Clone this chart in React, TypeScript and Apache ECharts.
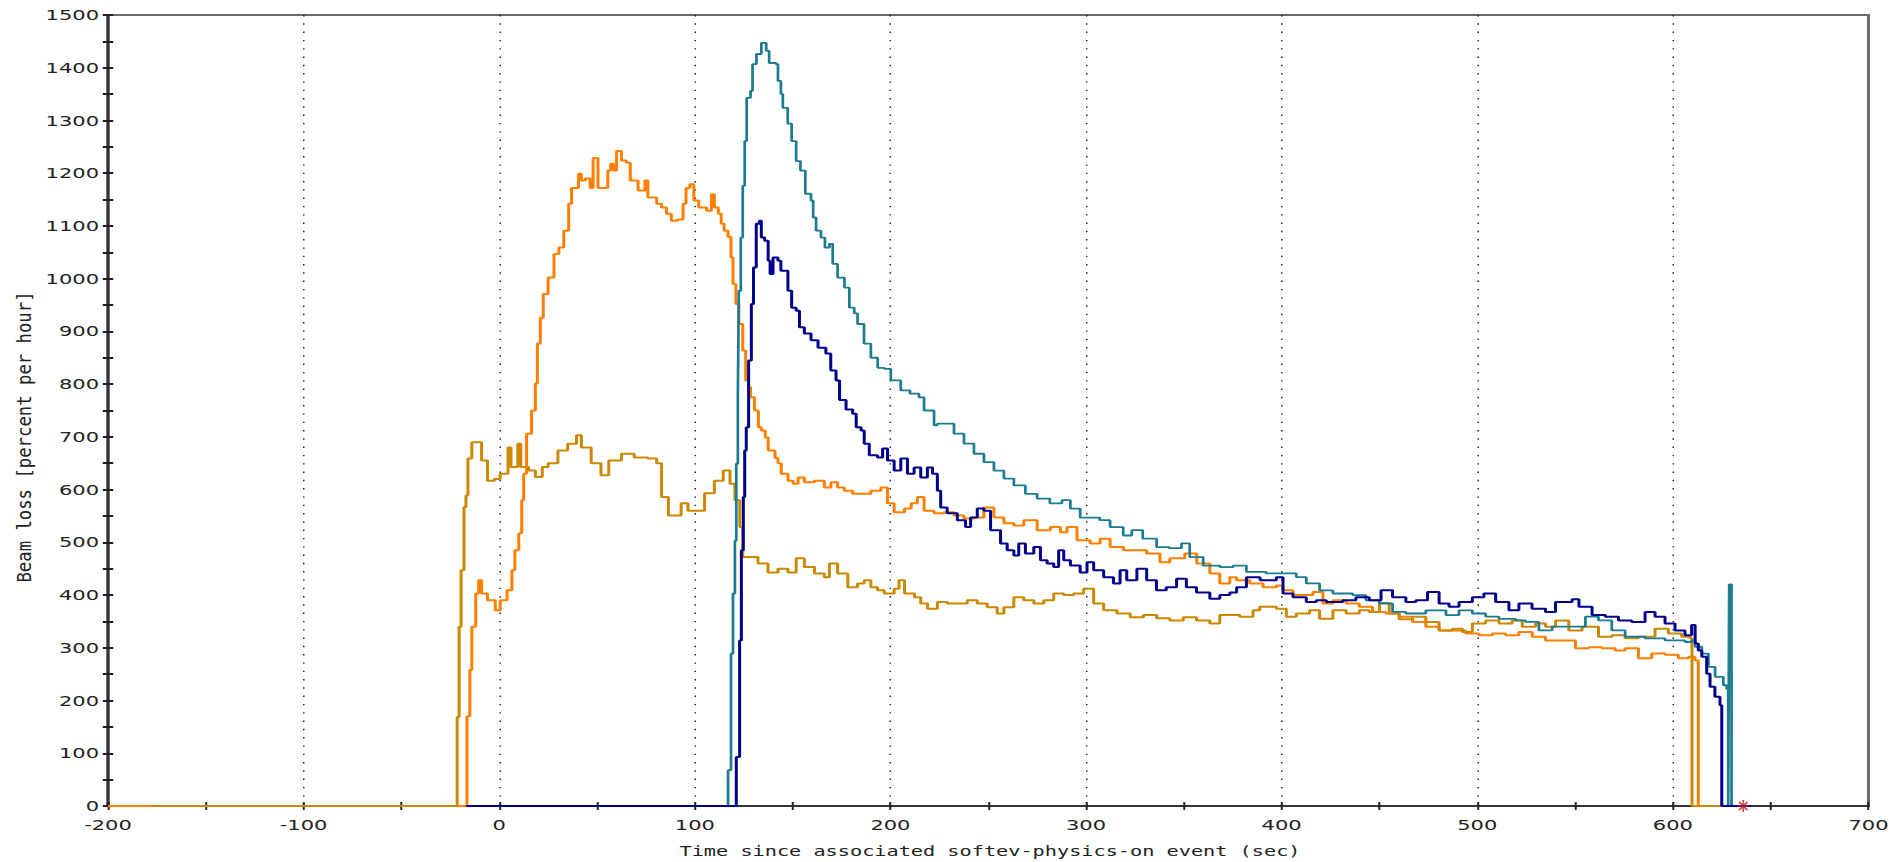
import React, { useEffect, useRef } from "react";
import * as echarts from "echarts";

// ---- data: [time since event (sec), beam loss (percent per hour)] ----
const orangeData: [number, number][] = [
  [-200, 0], [-17.5, 0], [-16.5, 170], [-15, 258], [-14, 340], [-12, 403], [-10.5, 428], [-9, 403],
  [-6, 390], [-2, 371], [0.5, 390], [4, 409], [6.5, 447], [8, 485], [10, 517], [11.5, 580], [12.5, 630],
  [14, 706], [16.5, 750], [18.5, 801], [19.5, 877], [21, 926], [22.5, 971], [25, 1002], [28, 1047],
  [30.5, 1059], [33, 1091], [35.5, 1142], [37, 1172], [40.5, 1199], [42, 1186], [44, 1190], [46.5, 1172],
  [48, 1229], [50.5, 1172], [53, 1172], [55.5, 1205], [57, 1218], [58.5, 1205], [60, 1242], [62.5, 1224],
  [65, 1220], [67, 1186], [71, 1167], [74.5, 1186], [76, 1154], [78, 1154], [80.5, 1142], [83, 1135],
  [85.5, 1123], [88, 1110], [91, 1112], [94, 1142], [95.5, 1172], [97.5, 1179], [99.5, 1148], [102, 1135],
  [106, 1129], [108.5, 1160], [110, 1135], [112, 1123], [113.5, 1104], [115, 1091], [117, 1079],
  [118.5, 1040], [119.5, 990], [121, 952], [122.5, 914], [124.5, 864], [126, 807], [127.5, 794],
  [128.5, 775], [130.5, 750], [132.5, 718], [134, 712], [136, 699], [137.5, 674], [141, 660], [142.5, 650],
  [144.2, 630], [147.6, 617], [150.3, 611], [152.8, 623], [156, 614], [161.2, 617], [166.2, 604],
  [169.6, 614], [173, 604], [176.4, 598], [180.7, 592], [184.9, 592], [190, 598], [195.1, 604], [198.5, 574],
  [201.9, 557], [207.2, 564], [210.6, 574], [213.8, 586], [217.2, 560], [222.3, 555], [227.4, 557],
  [232.5, 551], [237.6, 545], [242.7, 547], [247.8, 566], [252.9, 547], [258, 536], [263.1, 532],
  [268.2, 542], [275, 523], [281.8, 529], [286.9, 519], [290.3, 529], [295.4, 504], [302.1, 498],
  [307.2, 507], [312.3, 491], [319.1, 485], [324.2, 485], [331, 479], [337.8, 462], [342.9, 470],
  [350.5, 479], [356.6, 460], [363.3, 441], [368.4, 422], [373.5, 434], [377, 428], [383.7, 422],
  [390.5, 415], [397.3, 418], [400.7, 409], [405.8, 400], [412.6, 400], [416, 406], [421.1, 384],
  [426.2, 390], [433, 384], [439.7, 378], [446.5, 368], [453.3, 365], [460.1, 359], [466.9, 349],
  [473.7, 340], [480.5, 333], [487.3, 333], [494.1, 327], [500.9, 324], [507.7, 327], [514.5, 324],
  [521.3, 330], [528.1, 321], [534.9, 314], [541.7, 314], [550.2, 299], [557, 301], [563.7, 299],
  [570.5, 295], [575.6, 299], [582.4, 280], [589.2, 289], [596, 287], [602.8, 280], [608, 283],
  [611.3, 276], [613, 0], [640, 0],
];

const goldData: [number, number][] = [
  [-177, 0], [-22.5, 0], [-21.5, 169], [-20.5, 340], [-19.5, 447], [-18, 567], [-17, 589], [-16, 659],
  [-14, 690], [-10.5, 690], [-9, 655], [-6, 617], [-2.5, 620], [0.5, 630], [4.5, 680], [6, 643],
  [9.5, 687], [11, 643], [15, 636], [18.5, 624], [22, 643], [25, 650], [30, 674], [35, 687], [39.5, 703],
  [42, 680], [47, 650], [52, 627], [56, 655], [62.5, 668], [69, 661], [76, 659], [80.5, 650], [83, 586],
  [86.5, 551], [90, 551], [93, 574], [96.5, 560], [100, 560], [105, 593], [110, 617], [114.5, 636],
  [118, 611], [120.5, 580], [123, 529], [124.5, 472], [132.3, 460], [137.4, 443], [142.5, 450],
  [147.6, 443], [151.8, 470], [156, 453], [161.2, 441], [166.2, 434], [168.8, 460], [173, 441],
  [178.2, 415], [183.2, 422], [186.6, 428], [190, 415], [193.4, 409], [196.8, 403], [201.9, 412],
  [204.4, 428], [207.2, 403], [212.3, 396], [215.5, 384], [219, 374], [224, 387], [229.1, 384],
  [234.2, 384], [239.3, 390], [244.4, 384], [249.5, 377], [254.6, 365], [258, 377], [263.1, 396],
  [268.2, 390], [273.3, 384], [278.4, 390], [283.5, 403], [288.6, 400], [293.7, 403], [298.8, 412],
  [303.9, 384], [309, 371], [315.8, 365], [322.6, 358], [329.4, 362], [336.1, 356], [342.9, 352],
  [349.7, 358], [356.5, 352], [363.3, 346], [368.4, 362], [378.6, 359], [385.4, 371], [388.8, 378],
  [397.3, 374], [402.4, 359], [407.5, 365], [414.3, 371], [419.4, 355], [426.2, 371], [433, 365],
  [439.7, 371], [444.8, 368], [450, 385], [455, 365], [460.1, 354], [466.9, 359], [473.7, 349],
  [480.5, 333], [487.3, 336], [492.4, 330], [497.5, 346], [504.3, 352], [511.1, 346], [517.9, 352],
  [523, 340], [529.8, 346], [534.9, 340], [540, 352], [546.8, 333], [553.6, 340], [562, 321],
  [568.8, 324], [575.6, 318], [582.4, 321], [590.9, 336], [597.7, 327], [604.5, 321], [608.7, 318],
  [609.8, 0], [640, 0],
];

const tealData: [number, number][] = [
  [-17, 0], [116, 0], [117, 68], [118.5, 289], [119.5, 403], [120.5, 503], [121.2, 649], [122, 780],
  [122.5, 977], [123.5, 1078], [124.5, 1176], [125.5, 1261], [126.5, 1343], [128.5, 1356], [129.5, 1407],
  [131.5, 1426], [134, 1447], [136.5, 1432], [138, 1409], [141.5, 1407], [142.5, 1375], [144, 1350],
  [145, 1324], [147.5, 1294], [149.5, 1261], [151.8, 1223], [154, 1205], [156.5, 1161], [159.4, 1148],
  [160.5, 1116], [162, 1091], [164.5, 1078], [166.5, 1059], [168.8, 1066], [170.5, 1028], [173, 1002],
  [176.5, 983], [179, 945], [181.5, 934], [183.2, 914], [186.5, 877], [190, 850], [193.5, 831],
  [196.8, 829], [200.2, 807], [205.3, 788], [210, 782], [214.6, 775], [217.2, 750], [222.3, 722],
  [224, 725], [227.5, 725], [232.5, 706], [237.6, 687], [242.7, 668], [247.8, 652], [252.9, 636],
  [258, 621], [263.1, 608], [269, 592], [275, 583], [281.5, 574], [287.7, 580], [292, 564], [297, 547],
  [302, 547], [307, 542], [312.3, 529], [319, 513], [323.4, 523], [329, 507], [336.1, 491], [342.5, 489],
  [348.8, 498], [353, 472], [359.9, 456], [368.4, 453], [375.2, 456], [382, 444], [392, 441], [399, 441],
  [407.5, 434], [412.6, 422], [419.4, 409], [426.2, 403], [436.3, 400], [443.1, 390], [450, 384],
  [456.7, 368], [463.5, 365], [473.7, 371], [480.5, 371], [484, 362], [490.7, 371], [497.5, 365],
  [504.3, 359], [511.1, 355], [519.6, 352], [524.7, 349], [531.5, 333], [538.3, 340], [548.5, 340],
  [555.3, 359], [562, 352], [568.8, 333], [575.6, 321], [585.8, 318], [596, 314], [606.2, 311],
  [609.6, 314], [611.4, 302], [614.8, 289], [618.2, 264], [621.6, 245], [625.8, 229], [627.5, 222],
  [628.3, 0], [628.8, 420], [630, 0], [640, 0],
];

const navyData: [number, number][] = [
  [-17, 0], [120.4, 0], [121.2, 93], [122.9, 314], [123.8, 485], [124.8, 586], [125.5, 674], [126.3, 718],
  [127.5, 845], [128.9, 952], [130, 1021], [131.4, 1104], [133, 1110], [134, 1078], [135.7, 1072],
  [137.5, 1034], [138.5, 1009], [140, 1040], [142.5, 1034], [144, 1015], [147.6, 977], [149.5, 945],
  [151.8, 939], [153.5, 908], [156, 896], [159.4, 883], [163, 869], [167, 858], [169.5, 826], [172.2, 807],
  [174, 770], [177.3, 752], [180.7, 744], [182.5, 718], [185, 712], [186.6, 687], [189.2, 665],
  [193.4, 661], [196, 678], [198.5, 655], [201.9, 636], [205.3, 659], [208.7, 630], [212.1, 642],
  [215.5, 623], [218.9, 642], [221.5, 630], [224, 598], [225.7, 566], [229, 555], [234.2, 542],
  [238.4, 529], [241, 547], [244.4, 564], [247.8, 560], [251.2, 523], [256.3, 498], [259.7, 485],
  [263.1, 475], [265.6, 498], [269, 479], [273.3, 491], [276.7, 466], [280.1, 460], [283.5, 453],
  [286, 485], [288.6, 466], [292, 456], [297, 443], [300.5, 462], [303.9, 447], [309, 434], [314, 422],
  [317.4, 447], [320.8, 428], [326, 450], [331, 428], [336, 409], [341, 415], [346.3, 431], [351.3, 415],
  [356.5, 405], [363.3, 393], [368.4, 400], [373.5, 405], [377, 415], [382, 434], [389, 428],
  [397.3, 434], [400.7, 403], [405.8, 396], [412.6, 387], [417.7, 390], [422.8, 387], [431.3, 390],
  [438, 396], [444.8, 390], [450.8, 409], [456.7, 396], [463.5, 387], [468.6, 390], [474.6, 406],
  [480.5, 384], [485.6, 378], [490.7, 387], [497.5, 396], [503.4, 403], [509.4, 387], [516.2, 371],
  [521.3, 384], [528, 374], [534.9, 368], [540, 387], [548.5, 392], [552, 378], [558.7, 362],
  [565.5, 359], [572.2, 352], [579, 349], [585.8, 368], [590.9, 359], [596, 346], [601.1, 333],
  [606.2, 324], [609.6, 343], [611.4, 308], [613, 295], [614.8, 283], [617.3, 251], [619, 226],
  [621.5, 207], [624.1, 191], [625, 0], [640, 0],
];

const markerData: [number, number][] = [[636, 0]];

const xTitle = "Time since associated softev-physics-on event (sec)";
const yTitle = "Beam loss [percent per hour]";

const STRETCH = 1.5;
const W = 1893 / STRETCH;
const H = 862;

const asterisk =
  "path://M-0.7,-5L0.7,-5L0.7,5L-0.7,5Z M-5,-0.7L5,-0.7L5,0.7L-5,0.7Z M-4,-3L-3,-4L4,3L3,4Z M3,-4L4,-3L-3,4L-4,3Z";

export default function App() {
  const ref = useRef<HTMLDivElement>(null);

  useEffect(() => {
    if (!ref.current) return;
    const chart = echarts.init(ref.current, null, { renderer: "svg", width: W, height: H });
    const labelFont = { fontFamily: "DejaVu Sans", fontSize: 14, color: "#222" };
    const plain = (v: number) => String(v);
    const lineSeries = (name: string, data: [number, number][], color: string, width: number, z: number) => ({
      type: "line",
      name,
      data,
      step: "end",
      symbol: "none",
      showSymbol: false,
      clip: false,
      lineStyle: { color, width },
      itemStyle: { color },
      z,
      silent: true,
    });
    chart.setOption({
      animation: false,
      backgroundColor: "#ffffff",
      grid: {
        left: 72,
        right: 14,
        top: 15,
        bottom: 56,
        show: true,
        borderColor: "#6a6a6a",
        borderWidth: 2,
      },
      xAxis: [
        {
          type: "value",
          min: -200,
          max: 700,
          interval: 100,
          position: "bottom",
          axisLine: { show: true, onZero: false, lineStyle: { color: "#333", width: 2 } },
          axisTick: { show: true, length: 4, lineStyle: { color: "#222", width: 1.3 } },
          minorTick: { show: true, splitNumber: 2, length: 4, lineStyle: { color: "#222", width: 1.3 } },
          axisLabel: { ...labelFont, margin: 12, formatter: plain },
          splitLine: {
            show: true,
            showMinLine: false,
            showMaxLine: false,
            lineStyle: { color: "#222", width: 1, type: [1.4, 6.9] },
          },
        },
        {
          type: "value",
          min: -200,
          max: 700,
          interval: 100,
          position: "bottom",
          axisLine: { show: false, onZero: false },
          axisTick: { show: true, inside: true, length: 4, lineStyle: { color: "#222", width: 1.3 } },
          minorTick: { show: true, splitNumber: 2, length: 4, lineStyle: { color: "#222", width: 1.3 } },
          axisLabel: { show: false },
          splitLine: { show: false },
        },
      ],
      yAxis: [
        {
          type: "value",
          min: 0,
          max: 1500,
          interval: 100,
          position: "left",
          axisLine: { show: true, onZero: false, lineStyle: { color: "#333", width: 2 } },
          axisTick: { show: true, length: 3.5, lineStyle: { color: "#222", width: 2 } },
          minorTick: { show: true, splitNumber: 2, length: 3.5, lineStyle: { color: "#222", width: 2 } },
          axisLabel: { ...labelFont, margin: 6, formatter: plain },
          splitLine: { show: false },
        },
        {
          type: "value",
          min: 0,
          max: 1500,
          interval: 100,
          position: "left",
          axisLine: { show: false, onZero: false },
          axisTick: { show: true, inside: true, length: 3.5, lineStyle: { color: "#222", width: 2 } },
          minorTick: { show: true, splitNumber: 2, length: 3.5, lineStyle: { color: "#222", width: 2 } },
          axisLabel: { show: false },
          splitLine: { show: false },
        },
      ],
      series: [
        lineSeries("orange", orangeData, "#ff8000", 2, 2),
        lineSeries("gold", goldData, "#cc8800", 2, 3),
        lineSeries("teal", tealData, "#1b7b90", 1.8, 4),
        lineSeries("navy", navyData, "#00008c", 2, 5),
        {
          type: "scatter",
          data: markerData,
          symbol: asterisk,
          symbolSize: [8, 12],
          itemStyle: { color: "#c41e1e" },
          z: 10,
          silent: true,
        },
      ],
      graphic: [
        {
          type: "text",
          x: 660,
          y: 851,
          silent: true,
          style: {
            text: xTitle,
            font: '13.5px "DejaVu Sans Mono"',
            fill: "#222",
            textAlign: "center",
            textVerticalAlign: "middle",
            align: "center",
            verticalAlign: "middle",
          },
        },
        {
          type: "text",
          x: 16,
          y: 437,
          rotation: Math.PI / 2,
          scaleX: 1.33,
          silent: true,
          style: {
            text: yTitle,
            font: '13px "DejaVu Sans Mono"',
            fill: "#222",
            textAlign: "center",
            textVerticalAlign: "middle",
            align: "center",
            verticalAlign: "middle",
          },
        },
      ],
    });
    return () => chart.dispose();
  }, []);

  return (
    <div style={{ position: "absolute", left: 0, top: 0, width: 1893, height: 862, overflow: "hidden", background: "#fff" }}>
      <div
        ref={ref}
        style={{ width: W, height: H, transform: `scaleX(${STRETCH})`, transformOrigin: "0 0" }}
      />
    </div>
  );
}
